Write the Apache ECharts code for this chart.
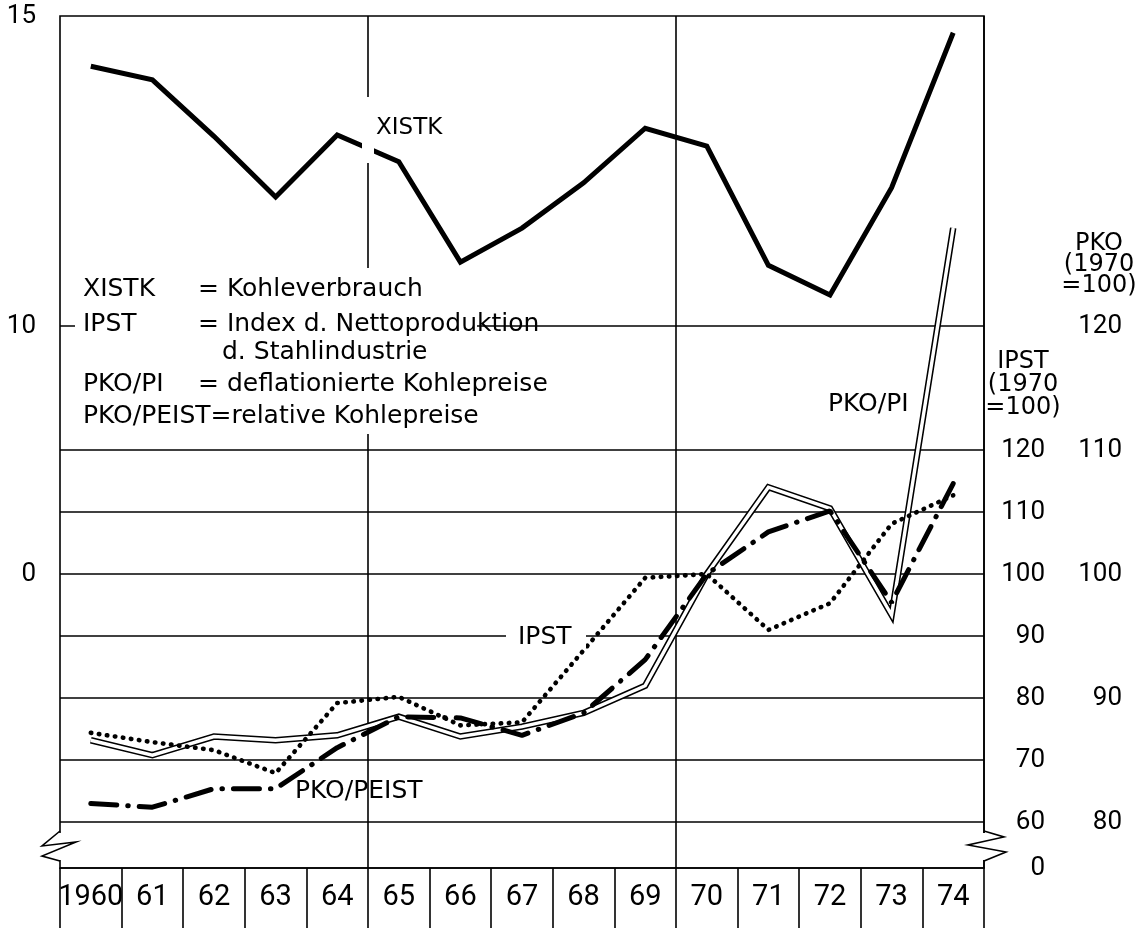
<!DOCTYPE html>
<html>
<head>
<meta charset="utf-8">
<script src="https://cdn.jsdelivr.net/npm/echarts@6/dist/echarts.min.js"></script>
<style>
html,body{margin:0;padding:0;background:#fff;}
#c{width:1144px;height:928px;}
</style>
</head>
<body>
<div id="c"></div>
<script>
// ---- data ----
const years = ['1960','61','62','63','64','65','66','67','68','69','70','71','72','73','74'];
const xistk    = [14.19, 13.97, 13.06, 12.08, 13.08, 12.65, 11.03, 11.58, 12.31, 13.19, 12.90, 10.98, 10.50, 12.23, 14.73];
const ipst     = [74.4, 72.9, 71.6, 67.9, 79.2, 80.2, 75.6, 76.1, 87.7, 99.4, 100, 91.0, 95.3, 108.1, 112.7];
const pkoPi    = [86.6, 85.4, 86.9, 86.6, 87.0, 88.5, 86.9, 87.7, 88.8, 91.0, 100, 107.0, 105.3, 96.7, 127.9];
const pkoPeist = [81.5, 81.2, 82.7, 82.7, 86.0, 88.5, 88.4, 87.0, 88.8, 93.1, 100, 103.4, 105.1, 97.7, 107.3];

// tick labels
const leftTickValues = [15, 10, 6];
const leftTickLabels = ['15', '10', '0'];
const ipstTickValues = [60, 70, 80, 90, 100, 110, 120];
const ipstGridValues = [60, 70, 80, 90, 100, 110, 120, 140];
const ipstBreakLabel = '0';
const pkoTickValues = [80, 90, 100, 110, 120];

// legend / annotation text
const legendRows = [
  ['XISTK', '= Kohleverbrauch'],
  ['IPST', '= Index d. Nettoproduktion'],
  ['', 'd. Stahlindustrie'],
  ['PKO/PI', '= deflationierte Kohlepreise'],
  ['PKO/PEIST=relative Kohlepreise', '']
];

// ---- axis ranges (IPST scale is the reference; others are linear re-labelings) ----
const IPST_MIN = 52.6, IPST_MAX = 190;
const toX = v => (v - 40) / 10;   // XISTK
const toP = v => 50 + v / 2;      // PKO
const GL = 60, GR = 160, GT = 16, GB = 60;
const W = 1144, H = 928;
const PX = W - GR; // right edge x

const txtFont = '"DejaVu Sans", sans-serif';
const numFont = 'Roboto, "Liberation Sans", sans-serif';

const chart = echarts.init(document.getElementById('c'), null, {renderer: 'canvas'});

function t(text, x, y, size, align) {
  return {
    type: 'text', z: 10, x: x, y: y,
    style: {text: text, font: size + 'px ' + txtFont, fill: '#000',
      align: align || 'left', verticalAlign: 'middle',
      textAlign: align || 'left', textVerticalAlign: 'middle'}
  };
}
function wr(x, y, w, h) {
  return {type: 'rect', z: 9, shape: {x: x, y: y, width: w, height: h}, style: {fill: '#fff'}};
}

const gfx = [];
// legend block background (hides grid lines behind the text)
gfx.push(wr(75, 268, 402, 166));
const rowY = [289, 324, 352, 384, 416];
legendRows.forEach((r, i) => {
  if (r[0]) gfx.push(t(r[0], 83, rowY[i], 25));
  if (r[1]) gfx.push(t(r[1], i === 2 ? 222 : 198, rowY[i], 25));
});
// series labels
gfx.push(wr(362, 97, 12, 66));
gfx.push(t('XISTK', 376, 128, 23));
gfx.push(wr(506, 626, 80, 22));
gfx.push(t('IPST', 518, 637, 25));
gfx.push(t('PKO/PI', 828, 404, 25));
gfx.push(t('PKO/PEIST', 295, 791, 25));
// axis titles
['PKO', '(1970', '=100)'].forEach((s, i) => gfx.push(t(s, 1099, 244 + i * 21, 24, 'center')));
['IPST', '(1970', '=100)'].forEach((s, i) => gfx.push(t(s, 1023, 362 + i * 23, 24, 'center')));
// axis breaks
gfx.push(wr(GL - 3, 833, 6, 27));
gfx.push({type: 'polyline', z: 10, shape: {points: [[GL, 831], [GL - 18, 846], [GL + 16, 842], [GL - 18, 856], [GL, 861]]},
  style: {stroke: '#000', lineWidth: 1.6, fill: null}});
gfx.push(wr(PX - 3, 833, 6, 27));
gfx.push({type: 'polyline', z: 10, shape: {points: [[PX, 831], [PX + 20, 837], [PX - 16, 845], [PX + 22, 852], [PX, 861]]},
  style: {stroke: '#000', lineWidth: 1.6, fill: null}});

const option = {
  animation: false,
  backgroundColor: '#fff',
  grid: {left: GL, right: GR, top: GT, bottom: GB, show: true, borderColor: '#000', borderWidth: 1.6, containLabel: false},
  xAxis: {
    type: 'category', data: years, boundaryGap: true,
    axisLine: {show: true, lineStyle: {color: '#000', width: 1.6}},
    axisTick: {show: true, interval: 0, length: 60, inside: false, lineStyle: {color: '#000', width: 1.6}},
    axisLabel: {show: true, interval: 0, margin: 15, color: '#000', fontSize: 29, fontFamily: numFont},
    splitLine: {show: true, interval: (i) => i === 5 || i === 10, lineStyle: {color: '#000', width: 1.6}}
  },
  yAxis: [
    { // IPST (right) – carries the horizontal grid
      type: 'value', position: 'right', min: IPST_MIN, max: IPST_MAX,
      axisLine: {show: false},
      axisTick: {show: false, customValues: ipstGridValues},
      splitLine: {show: true, lineStyle: {color: '#000', width: 1.6}},
      axisLabel: {show: true, customValues: [IPST_MIN].concat(ipstTickValues),
        formatter: v => (v < 55 ? ipstBreakLabel : String(v)),
        align: 'right', margin: 61, color: '#000', fontSize: 26, fontFamily: numFont}
    },
    { // XISTK (left)
      type: 'value', position: 'left', min: toX(IPST_MIN), max: toX(IPST_MAX),
      axisLine: {show: false}, axisTick: {show: false}, splitLine: {show: false},
      axisLabel: {show: true, customValues: leftTickValues,
        formatter: v => leftTickLabels[leftTickValues.indexOf(Math.round(v))],
        margin: 24, color: '#000', fontSize: 26, fontFamily: numFont}
    },
    { // PKO (far right)
      type: 'value', position: 'right', min: toP(IPST_MIN), max: toP(IPST_MAX),
      axisLine: {show: false}, axisTick: {show: false}, splitLine: {show: false},
      axisLabel: {show: true, customValues: pkoTickValues, align: 'right', margin: 138,
        color: '#000', fontSize: 26, fontFamily: numFont}
    }
  ],
  series: [
    {name: 'PKO/PI', type: 'line', yAxisIndex: 2, data: pkoPi, symbol: 'none', z: 2,
      lineStyle: {color: '#000', width: 6.5, join: 'miter'}},
    {name: 'PKO/PI (inner)', type: 'line', yAxisIndex: 2, data: pkoPi, symbol: 'none', z: 3,
      lineStyle: {color: '#fff', width: 3.4, join: 'miter'}},
    {name: 'IPST', type: 'line', yAxisIndex: 0, data: ipst, symbol: 'none', z: 4,
      lineStyle: {color: '#000', width: 4.6, type: [0.5, 7.6], cap: 'round'}},
    {name: 'PKO/PEIST', type: 'line', yAxisIndex: 2, data: pkoPeist, symbol: 'none', z: 5,
      lineStyle: {color: '#000', width: 5, type: [26, 11, 0.5, 11], cap: 'round'}},
    {name: 'XISTK', type: 'line', yAxisIndex: 1, data: xistk, symbol: 'none', z: 6,
      lineStyle: {color: '#000', width: 5, join: 'miter'}}
  ],
  graphic: {elements: gfx}
};
chart.setOption(option);
</script>
</body>
</html>
